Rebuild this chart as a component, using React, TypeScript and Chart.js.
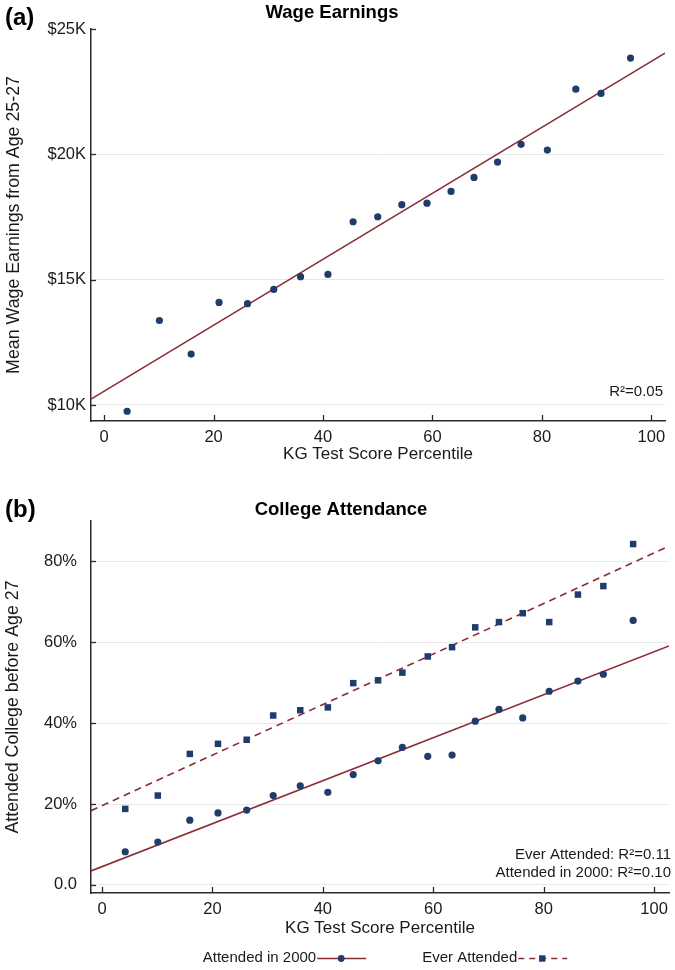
import React, { useEffect, useRef } from "react";
import { Chart, registerables } from "chart.js";

Chart.register(...registerables);

// ---------------- DATA ----------------
const percentiles = [4.2, 10.1, 15.9, 21.0, 26.2, 31.0, 35.9, 40.9, 45.5, 50.0, 54.4, 59.0, 63.4, 67.6, 71.9, 76.2, 81.0, 86.2, 90.8, 96.2];
const wageEarningsK = [9.75, 13.37, 12.03, 14.09, 14.04, 14.61, 15.12, 15.21, 17.31, 17.51, 17.99, 18.05, 18.52, 19.08, 19.69, 20.4, 20.17, 22.6, 22.43, 23.84];
const attended2000 = [8.2, 10.6, 16.0, 17.8, 18.5, 22.1, 24.5, 22.9, 27.3, 30.7, 34.0, 31.8, 32.1, 40.5, 43.4, 41.3, 47.9, 50.4, 52.1, 65.4];
const everAttended = [18.8, 22.1, 32.4, 34.9, 35.9, 41.9, 43.2, 43.9, 49.9, 50.6, 52.5, 56.5, 58.8, 63.7, 65.0, 67.2, 65.0, 71.8, 73.9, 84.3];

// fitted lines (intercept, slope)
const wageFit = { intercept: 10.55, slope: 0.1316 };
const attended2000Fit = { intercept: 4.52, slope: 0.5314 };
const everAttendedFit = { intercept: 19.6, slope: 0.6251 };

const xTickValues = [0, 20, 40, 60, 80, 100];
const wageTickValues = [10, 15, 20, 25];
const wageTickLabels = ["$10K", "$15K", "$20K", "$25K"];
const pctTickValues = [0, 20, 40, 60, 80];
const pctTickLabels = ["0.0", "20%", "40%", "60%", "80%"];

const wageR2 = ["R\u00B2=0.05"];
const collegeR2 = ["Ever Attended: R\u00B2=0.11", "Attended in 2000: R\u00B2=0.10"];

// ---------------- STYLE ----------------
const FONT = '"Liberation Sans", Arial, Helvetica, sans-serif';
const NAVY = "#1f3d6b";
const MAROON = "#8b2c35";
const AXIS = "#2a2a2a";
const GRID = "#e8e8e8";
const TEXT = "#1a1a1a";

const fitPoints = (fit: { intercept: number; slope: number }, min: number, max: number) => [
  { x: min, y: fit.intercept + fit.slope * min },
  { x: max, y: fit.intercept + fit.slope * max },
];

const insideTicksPlugin = {
  id: "insideTicks",
  beforeDatasetsDraw(chart: any) {
    const { ctx, chartArea, scales } = chart;
    const x = scales.x;
    const y = scales.y;
    ctx.save();
    ctx.strokeStyle = AXIS;
    ctx.lineWidth = 1.3;
    x.ticks.forEach((t: any) => {
      const px = Math.round(x.getPixelForValue(t.value)) + 0.5;
      ctx.beginPath();
      ctx.moveTo(px, chartArea.bottom);
      ctx.lineTo(px, chartArea.bottom - 6);
      ctx.stroke();
    });
    y.ticks.forEach((t: any) => {
      const py = Math.round(y.getPixelForValue(t.value)) + 0.5;
      ctx.beginPath();
      ctx.moveTo(chartArea.left, py);
      ctx.lineTo(chartArea.left + 5, py);
      ctx.stroke();
    });
    ctx.restore();
  },
};

const makeTextPlugin = (opts: {
  title: string;
  titleX: number;
  titleY: number;
  panel: string;
  panelY: number;
  notes: string[];
  noteRight: number;
  noteBottoms: number[];
}) => ({
  id: "texts",
  afterDraw(chart: any) {
    const { ctx, chartArea } = chart;
    ctx.save();
    ctx.fillStyle = "#000";
    ctx.textBaseline = "middle";
    ctx.textAlign = "center";
    ctx.font = `bold 18.5px ${FONT}`;
    ctx.fillText(opts.title, opts.titleX, opts.titleY);
    ctx.textAlign = "left";
    ctx.font = `bold 24px ${FONT}`;
    ctx.fillText(opts.panel, 5, opts.panelY);
    ctx.textAlign = "right";
    ctx.font = `15px ${FONT}`;
    ctx.fillStyle = TEXT;
    opts.notes.forEach((n, i) => {
      ctx.fillText(n, chartArea.right + opts.noteRight, chartArea.bottom - opts.noteBottoms[i]);
    });
    ctx.restore();
  },
});

const legendPlugin = {
  id: "customLegend",
  afterDraw(chart: any) {
    const { ctx, chartArea } = chart;
    const items = chart.data.datasets.filter((d: any) => d.legendMarker);
    ctx.save();
    ctx.font = `15px ${FONT}`;
    ctx.textBaseline = "middle";
    ctx.textAlign = "left";
    const lineLen = 50;
    const gap = 56;
    const widths = items.map((d: any) => ctx.measureText(d.label).width);
    const total = widths.reduce((a: number, b: number) => a + b, 0) + items.length * lineLen + gap * (items.length - 1);
    let x = (chartArea.left + chartArea.right) / 2 - total / 2 + 5;
    const y = chartArea.bottom + 65;
    items.forEach((d: any, i: number) => {
      ctx.fillStyle = TEXT;
      ctx.fillText(d.label, x, y);
      x += widths[i];
      ctx.strokeStyle = MAROON;
      ctx.lineWidth = 1.6;
      ctx.setLineDash(d.legendDash || []);
      ctx.beginPath();
      ctx.moveTo(x + 1, y + 0.5);
      ctx.lineTo(x + lineLen, y + 0.5);
      ctx.stroke();
      ctx.setLineDash([]);
      const cx = x + lineLen / 2;
      ctx.fillStyle = NAVY;
      if (d.legendMarker === "circle") {
        ctx.beginPath();
        ctx.arc(cx, y + 0.5, 3.4, 0, Math.PI * 2);
        ctx.fill();
      } else {
        ctx.fillRect(cx - 3.2, y - 2.7, 6.4, 6.4);
      }
      x += lineLen + gap;
    });
    ctx.restore();
  },
};

const commonX = (min: number, max: number, height: number, titlePadBottom: number) => ({
  type: "linear",
  min,
  max,
  afterBuildTicks: (s: any) => {
    s.ticks = xTickValues.map((v) => ({ value: v }));
  },
  afterFit: (s: any) => {
    s.height = height;
  },
  grid: { color: "rgba(0,0,0,0)", drawTicks: false },
  border: { color: AXIS, width: 1.5 },
  ticks: { font: { family: FONT, size: 16.5 }, color: TEXT, padding: 7, maxRotation: 0, autoSkip: false },
  title: {
    display: true,
    text: "KG Test Score Percentile",
    font: { family: FONT, size: 17 },
    color: TEXT,
    padding: { top: 0, bottom: titlePadBottom },
  },
});

function WageChart() {
  const ref = useRef<HTMLCanvasElement | null>(null);
  useEffect(() => {
    const xMin = -2.4;
    const xMax = 102.5;
    const chart = new Chart(ref.current as HTMLCanvasElement, {
      type: "scatter",
      data: {
        datasets: [
          {
            type: "line",
            label: "fit",
            data: fitPoints(wageFit, xMin, xMax),
            borderColor: MAROON,
            borderWidth: 1.6,
            pointRadius: 0,
            fill: false,
            order: 2,
          } as any,
          {
            label: "Wage Earnings",
            data: percentiles.map((x, i) => ({ x, y: wageEarningsK[i] })),
            pointStyle: "circle",
            pointRadius: 3.6,
            backgroundColor: NAVY,
            borderWidth: 0,
            order: 1,
          },
        ],
      },
      options: {
        animation: false,
        responsive: false,
        layout: { padding: { top: 29, right: 10, left: 0, bottom: 0 } },
        plugins: { legend: { display: false }, tooltip: { enabled: false } },
        scales: {
          x: commonX(xMin, xMax, 49, 5) as any,
          y: {
            type: "linear",
            min: 9.36,
            max: 25,
            afterBuildTicks: (s: any) => {
              s.ticks = wageTickValues.map((v) => ({ value: v }));
            },
            afterFit: (s: any) => {
              s.width = 91;
            },
            grid: {
              drawTicks: false,
              color: (c: any) => (c.tick && c.tick.value === 25 ? "rgba(0,0,0,0)" : GRID),
              lineWidth: 1,
            },
            border: { color: AXIS, width: 1.5 },
            ticks: {
              font: { family: FONT, size: 16.5 },
              color: TEXT,
              padding: 5,
              callback: (v: any) => wageTickLabels[wageTickValues.indexOf(Number(v))],
            },
            title: {
              display: true,
              text: "Mean Wage Earnings from Age 25-27",
              font: { family: FONT, size: 17.8 },
              color: TEXT,
              padding: { top: 3, bottom: 0 },
            },
          },
        },
      },
      plugins: [
        insideTicksPlugin,
        makeTextPlugin({
          title: "Wage Earnings",
          titleX: 332,
          titleY: 13,
          panel: "(a)",
          panelY: 18,
          notes: wageR2,
          noteRight: -2,
          noteBottoms: [29],
        }),
      ],
    });
    return () => chart.destroy();
  }, []);
  return <canvas ref={ref} width={675} height={470} style={{ position: "absolute", left: 0, top: 0, display: "block" }} />;
}

function CollegeChart() {
  const ref = useRef<HTMLCanvasElement | null>(null);
  useEffect(() => {
    const xMin = -2.0;
    const xMax = 102.7;
    const chart = new Chart(ref.current as HTMLCanvasElement, {
      type: "scatter",
      data: {
        datasets: [
          {
            type: "line",
            label: "fit2000",
            data: fitPoints(attended2000Fit, xMin, xMax),
            borderColor: MAROON,
            borderWidth: 1.6,
            pointRadius: 0,
            fill: false,
            order: 3,
          } as any,
          {
            type: "line",
            label: "fitEver",
            data: fitPoints(everAttendedFit, xMin, xMax),
            borderColor: MAROON,
            borderWidth: 1.6,
            borderDash: [7, 5],
            pointRadius: 0,
            fill: false,
            order: 3,
          } as any,
          {
            label: "Attended in 2000",
            legendMarker: "circle",
            data: percentiles.map((x, i) => ({ x, y: attended2000[i] })),
            pointStyle: "circle",
            pointRadius: 3.6,
            backgroundColor: NAVY,
            borderWidth: 0,
            order: 1,
          } as any,
          {
            label: "Ever Attended",
            legendMarker: "rect",
            legendDash: [6, 5],
            data: percentiles.map((x, i) => ({ x, y: everAttended[i] })),
            pointStyle: "rect",
            pointRadius: 4.6,
            backgroundColor: NAVY,
            borderWidth: 0,
            order: 1,
          } as any,
        ],
      },
      options: {
        animation: false,
        responsive: false,
        layout: { padding: { top: 51, right: 4, left: 0, bottom: 24 } },
        plugins: { legend: { display: false }, tooltip: { enabled: false } },
        scales: {
          x: commonX(xMin, xMax, 53, 7) as any,
          y: {
            type: "linear",
            min: -2,
            max: 90,
            afterBuildTicks: (s: any) => {
              s.ticks = pctTickValues.map((v) => ({ value: v }));
            },
            afterFit: (s: any) => {
              s.width = 91;
            },
            grid: { drawTicks: false, color: GRID, lineWidth: 1 },
            border: { color: AXIS, width: 1.5 },
            ticks: {
              font: { family: FONT, size: 16.5 },
              color: TEXT,
              padding: 14,
              callback: (v: any) => pctTickLabels[pctTickValues.indexOf(Number(v))],
            },
            title: {
              display: true,
              text: "Attended College before Age 27",
              font: { family: FONT, size: 17.8 },
              color: TEXT,
              padding: { top: 2, bottom: 0 },
            },
          },
        },
      },
      plugins: [
        insideTicksPlugin,
        legendPlugin,
        makeTextPlugin({
          title: "College Attendance",
          titleX: 341,
          titleY: 40,
          panel: "(b)",
          panelY: 40,
          notes: collegeR2,
          noteRight: 2,
          noteBottoms: [38, 20],
        }),
      ],
    });
    return () => chart.destroy();
  }, []);
  return <canvas ref={ref} width={675} height={500} style={{ position: "absolute", left: 0, top: 470, display: "block" }} />;
}

export default function App() {
  return (
    <div style={{ position: "absolute", left: 0, top: 0, width: 675, height: 970, background: "#fff" }}>
      <WageChart />
      <CollegeChart />
    </div>
  );
}
